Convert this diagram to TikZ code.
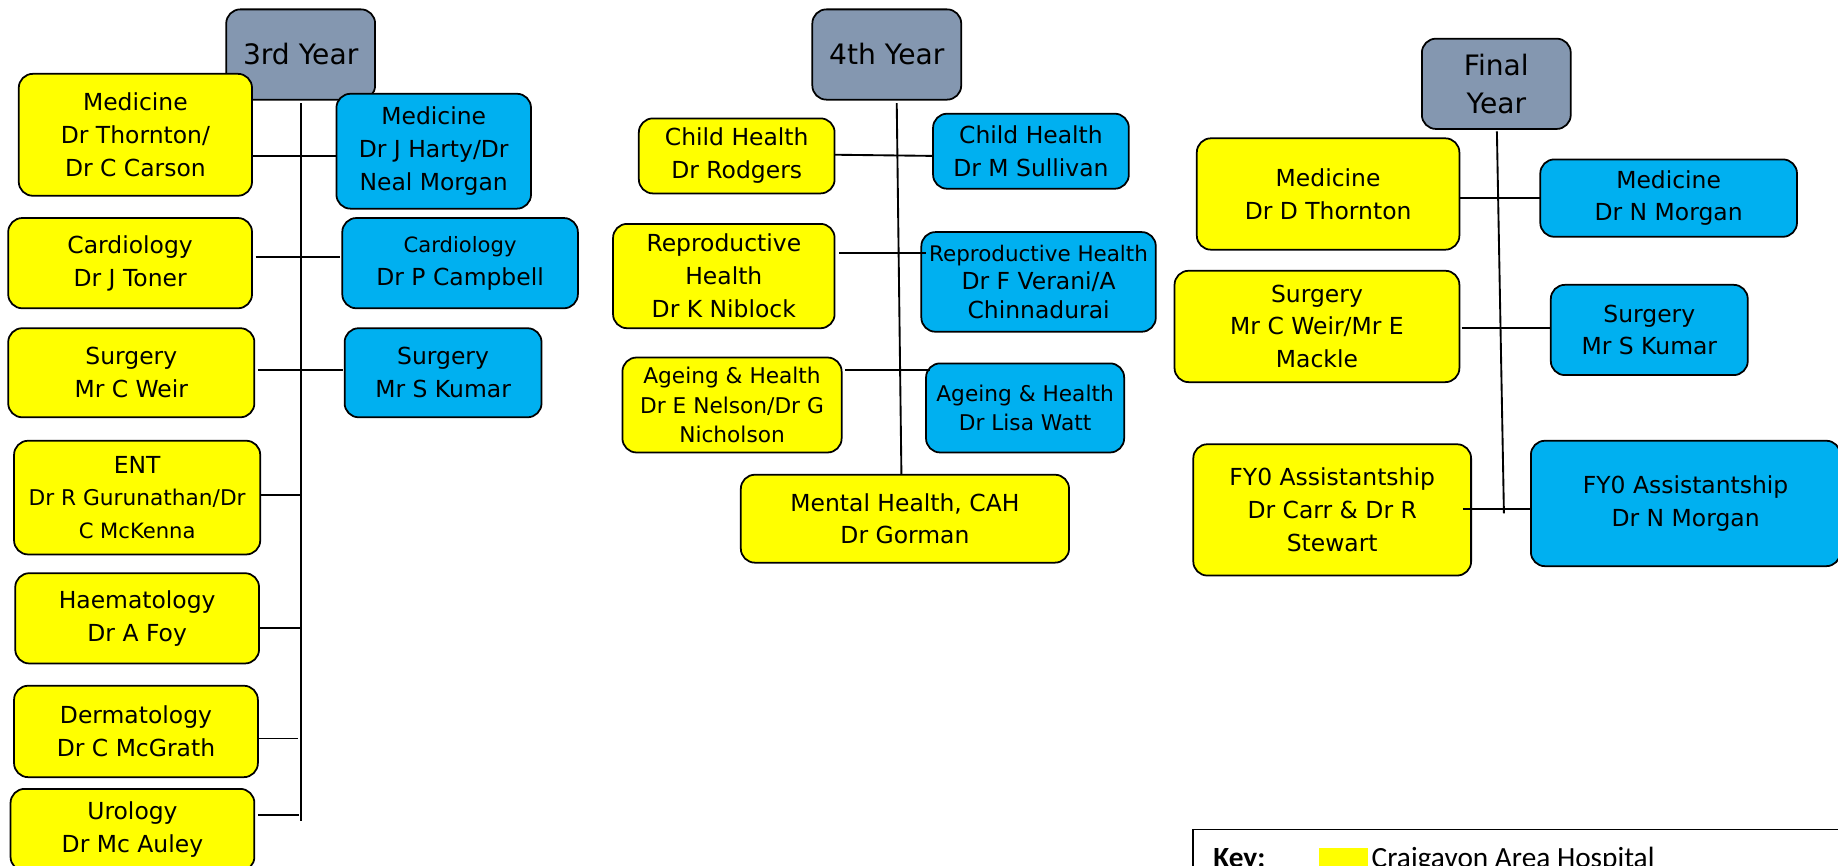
\documentclass[tikz,border=0pt]{standalone}
\usepackage{fontspec}
\setmainfont{DejaVu Sans}
\newfontfamily\keyfont{Carlito}
\usetikzlibrary{calc}
\definecolor{cyel}{RGB}{255,255,0}
\definecolor{cblu}{RGB}{0,176,240}
\definecolor{cgry}{RGB}{132,151,176}
\newcommand{\sm}{\fontsize{18}{25}\selectfont}
\newcommand{\bx}[7]{\node[#6, minimum width={#4-#2}, minimum height={#5-#3}] (#1) at ({(#2+#4)/2},{(#3+#5)/2}) {#7};}
\tikzset{
  box/.style={draw=black, line width=1.5pt, rounded corners=12pt, inner sep=0pt, outer sep=0pt, align=center, font=\fontsize{20}{28}\selectfont},
  cah/.style={box, fill=cyel},
  bht/.style={box, fill=cblu},
  yr/.style={box, fill=cgry, font=\fontsize{24}{32}\selectfont},
  conn/.style={draw=black, line width=1.6pt},
}
\begin{document}
\begin{tikzpicture}[x=1pt, y=-1pt]
\useasboundingbox (0,0) rectangle (1568,738);
\clip (0,0) rectangle (1568,738);
% ---------- 3rd year ----------
\bx{y3}{193}{8}{320}{85}{yr}{3rd Year}
\bx{m3y}{16}{63}{215}{167}{cah}{Medicine\\Dr Thornton/\\Dr C Carson}
\bx{m3b}{287}{80}{453}{178}{bht}{Medicine\\Dr J Harty/Dr\\Neal Morgan}
\bx{c3y}{7}{186}{215}{263}{cah}{Cardiology\\Dr J Toner}
\bx{c3b}{292}{186}{493}{263}{bht}{{\sm Cardiology}\\Dr P Campbell}
\bx{s3y}{7}{280}{217}{356}{cah}{Surgery\\Mr C Weir}
\bx{s3b}{294}{280}{462}{356}{bht}{Surgery\\Mr S Kumar}
\bx{ent}{12}{376}{222}{473}{cah}{ENT\\{\fontsize{18.5}{26}\selectfont Dr R Gurunathan/Dr}\\{\sm C McKenna}}
\bx{hae}{13}{489}{221}{566}{cah}{Haematology\\Dr A Foy}
\bx{der}{12}{585}{220}{663}{cah}{Dermatology\\Dr C McGrath}
\bx{uro}{9}{673}{217}{743}{cah}{Urology\\Dr Mc Auley}
% ---------- 4th year ----------
\bx{y4}{693}{8}{820}{85}{yr}{4th Year}
\bx{chy}{545}{101}{712}{165}{cah}{Child Health\\Dr Rodgers}
\bx{chb}{796}{97}{963}{161}{bht}{Child Health\\Dr M Sullivan}
\bx{rpy}{523}{191}{712}{280}{cah}{Reproductive\\Health\\Dr K Niblock}
\bx{rpb}{786}{198}{986}{283}{bht, font=\fontsize{20}{24.5}\selectfont}{{\fontsize{18.3}{24}\selectfont Reproductive Health}\\Dr F Verani/A\\Chinnadurai}
\bx{agy}{531}{305}{718}{386}{cah, font=\fontsize{18.5}{25}\selectfont}{Ageing \& Health\\Dr E Nelson/Dr G\\Nicholson}
\bx{agb}{790}{310}{959}{386}{bht, font=\fontsize{18.5}{25}\selectfont}{Ageing \& Health\\Dr Lisa Watt}
\bx{mh}{632}{405}{912}{480}{cah}{Mental Health, CAH\\Dr Gorman}
% ---------- Final year ----------
\bx{yf}{1213}{33}{1340}{110}{yr}{Final\\Year}
\bx{mfy}{1021}{118}{1245}{213}{cah}{Medicine\\Dr D Thornton}
\bx{mfb}{1314}{136}{1533}{202}{bht}{Medicine\\Dr N Morgan}
\bx{sfy}{1002}{231}{1245}{326}{cah}{Surgery\\Mr C Weir/Mr E\\Mackle}
\bx{sfb}{1323}{243}{1491}{320}{bht}{Surgery\\Mr S Kumar}
\bx{fyy}{1018}{379}{1255}{491}{cah}{FY0 Assistantship\\Dr Carr \& Dr R\\Stewart}
\bx{fyb}{1306}{376}{1570}{483}{bht}{FY0 Assistantship\\Dr N Morgan}
% ---------- spines ----------
\coordinate (sp3t) at (257,88);
\coordinate (sp3b) at (257,700);
\coordinate (sp4t) at (765,88);
\coordinate (sp4b) at (769,405);
\coordinate (spft) at (1277,112);
\coordinate (spfb) at (1283,438);
\draw[conn] (sp3t) -- (sp3b);
\draw[conn] (sp4t) -- (sp4b);
\draw[conn] (spft) -- (spfb);
% ---------- connectors, 3rd year ----------
\draw[conn] (m3y.east |- 0,133) -- (m3b.west |- 0,133);
\draw[conn] ($(c3y.east |- 0,219)+(3,0)$) -- ($(c3b.west |- 0,219)+(-2,0)$);
\draw[conn] ($(s3y.east |- 0,316)+(3,0)$) -- ($(s3b.west |- 0,316)+(-1,0)$);
\draw[conn] (ent.east |- 0,422) -- (sp3t |- 0,422);
\draw[conn] (hae.east |- 0,536) -- (sp3t |- 0,536);
\draw[conn] (der.east |- 0,630) -- ($(sp3t |- 0,630)+(-3,0)$);
\draw[conn] ($(uro.east |- 0,695)+(3,0)$) -- ($(sp3t |- 0,695)+(-2,0)$);
% ---------- connectors, 4th year ----------
\draw[conn] (chy.east |- 0,132) -- (chb.west |- 0,133);
\draw[conn] ($(rpy.east |- 0,216)+(4,0)$) -- ($(rpb.west |- 0,216)+(4,0)$);
\draw[conn] ($(agy.east |- 0,316)+(3,0)$) -- ($(agb.west |- 0,316)+(3,0)$);
% ---------- connectors, final year ----------
\draw[conn] (mfy.east |- 0,169) -- (mfb.west |- 0,169);
\draw[conn] ($(sfy.east |- 0,280)+(2,0)$) -- ($(sfb.west |- 0,280)+(-1,0)$);
\draw[conn] ($(fyy.east |- 0,434)+(-7,0)$) -- (fyb.west |- 0,434);
% ---------- key ----------
\node[draw=black, line width=1.2pt, inner sep=0pt, minimum width=600pt, minimum height=100pt, anchor=north west] (key) at (1017,707) {};
\node[anchor=base west, inner sep=0pt, font=\keyfont\bfseries\fontsize{25}{30}\selectfont] (keylbl) at (1035,740) {Key:};
\node[anchor=north west, fill=cyel, inner sep=0pt, minimum width=42pt, minimum height=40pt] (keysw) at (1125,723) {};
\node[anchor=base west, inner sep=0pt, font=\keyfont\fontsize{25}{30}\selectfont] (keytxt) at (1170,740) {Craigavon Area Hospital};
\end{tikzpicture}
\end{document}
